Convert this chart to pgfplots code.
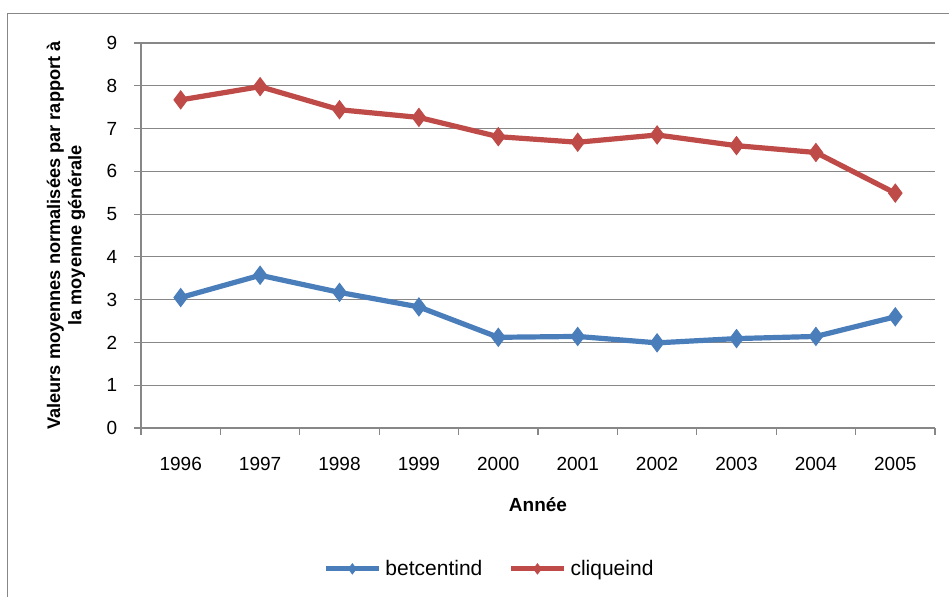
\documentclass[border=0pt]{standalone}
\usepackage{fontspec}
\setmainfont{Liberation Sans}
\usepackage{pgfplots}
\pgfplotsset{compat=1.18}
\definecolor{betblue}{HTML}{4A7EBB}
\definecolor{cliqred}{HTML}{BE4B48}
\definecolor{gridgray}{HTML}{878787}

\begin{document}
\fontsize{9.5}{11.5}\selectfont
\begin{tikzpicture}
\begin{axis}[
  at={(70.5pt,84.5pt)}, anchor=south west,
  scale only axis, width=397pt, height=192.5pt,
  xmin=0.5, xmax=10.5, ymin=0, ymax=9,
  ytick={0,...,9},
  xtick={0.5,1.5,...,10.5}, xticklabels={},
  extra x ticks={1,...,10},
  extra x tick labels={1996,1997,1998,1999,2000,2001,2002,2003,2004,2005},
  extra x tick style={tick style={draw=none}, xticklabel style={yshift=-8pt}},
  yticklabel style={xshift=-5pt},
  tick align=outside, major tick length=3.5pt,
  ymajorgrids, grid style={gridgray, line width=0.6pt},
  axis x line*=bottom, axis y line*=left,
  axis line style={gridgray, line width=0.6pt, -},
  tick style={gridgray, line width=0.6pt},
  /pgf/number format/assume math mode=true,
  xlabel={Année},
  ylabel={Valeurs moyennes normalisées par rapport à\\la moyenne générale},
  every axis x label/.style={at={(rel axis cs:0.5,-0.2)}, anchor=center, font=\bfseries},
  every axis y label/.style={at={(rel axis cs:-0.0945,0.5)}, rotate=90, anchor=center, align=center,
    font=\fontsize{9.1}{10.6}\selectfont\bfseries},
  legend style={at={(rel axis cs:0.44,-0.366)}, anchor=center, draw=none, fill=none,
    font=\fontsize{10.5}{12}\selectfont,
    legend columns=2, /tikz/every even column/.append style={column sep=11pt}},
  legend image code/.code={\draw[#1, mark repeat=2, mark phase=2, mark size=2.5pt] plot coordinates {(0pt,0pt) (13.25pt,0pt) (26.5pt,0pt)};},
]
\addplot[betblue, line width=2.6pt, mark=diamond*, mark size=4.5pt, mark options={line width=0.5pt}]
  coordinates {(1,3.05) (2,3.57) (3,3.17) (4,2.83) (5,2.12) (6,2.14) (7,1.99) (8,2.09) (9,2.14) (10,2.60)};
\addlegendentry{betcentind}
\addplot[cliqred, line width=2.6pt, mark=diamond*, mark size=4.5pt, mark options={line width=0.5pt}]
  coordinates {(1,7.67) (2,7.98) (3,7.44) (4,7.26) (5,6.81) (6,6.68) (7,6.85) (8,6.60) (9,6.44) (10,5.49)};
\addlegendentry{cliqueind}
\end{axis}
\draw[gridgray, line width=0.6pt] (3.7pt,0pt) -- (3.7pt,291.8pt) -- (474.5pt,291.8pt);
\pgfresetboundingbox
\path[use as bounding box] (0pt,0pt) rectangle (474.5pt,298.5pt);
\end{tikzpicture}
\end{document}
